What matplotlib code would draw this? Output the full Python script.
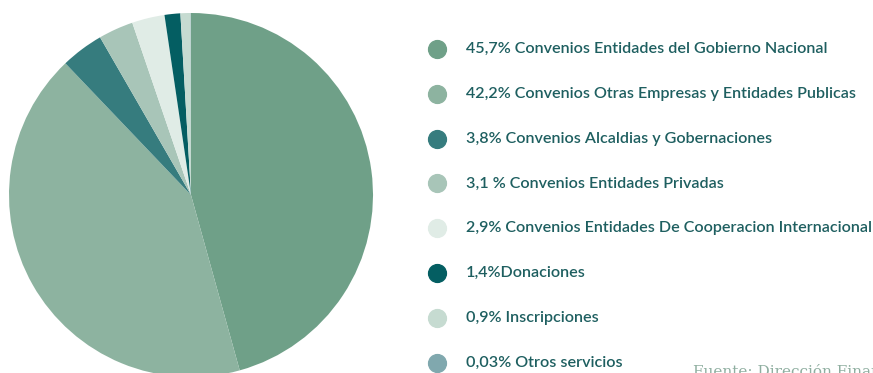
import matplotlib.pyplot as plt

# participacion de ingresos por fuente
porcentajes = [45.7, 42.2, 3.8, 3.1, 2.9, 1.4, 0.9, 0.03]
etiquetas = [
    "45,7% Convenios Entidades del Gobierno Nacional",
    "42,2% Convenios Otras Empresas y Entidades Publicas",
    "3,8% Convenios Alcaldias y Gobernaciones",
    "3,1 % Convenios Entidades Privadas",
    "2,9% Convenios Entidades De Cooperacion Internacional",
    "1,4%Donaciones",
    "0,9% Inscripciones",
    "0,03% Otros servicios",
]
colores = ["#6FA088", "#8DB3A0", "#367C7E", "#A8C5B8",
           "#E0ECE6", "#045E62", "#C6DBD1", "#80A8AE"]
fuente = "Fuente: Dirección Financiera"

fig = plt.figure(figsize=(8.73, 3.73), dpi=100)
ax = fig.add_axes([0, 0, 1, 1])

# eje y invertido (pixeles), por eso startangle=-90 y sentido antihorario
ax.pie(porcentajes, colors=colores, startangle=-90, counterclock=True,
       center=(191, 195), radius=182, frame=True,
       wedgeprops={"linewidth": 0})
ax.set_xlim(0, 873)
ax.set_ylim(373, 0)
ax.set_aspect("equal")
ax.axis("off")

# leyenda con puntos
y0, paso = 49, 44.8
for i, (et, c) in enumerate(zip(etiquetas, colores)):
    y = y0 + i * paso
    ax.scatter(437, y, s=165, color=c, zorder=3)
    ax.text(466, y, et, fontsize=11.6, family="Lato", fontweight="semibold",
            color="#1E5F60", va="center", ha="left")

ax.text(693, 372, fuente, fontsize=11, family="DejaVu Serif",
        color="#8FAEA0", va="center", ha="left", clip_on=True)

fig.savefig("out.png", dpi=100)
